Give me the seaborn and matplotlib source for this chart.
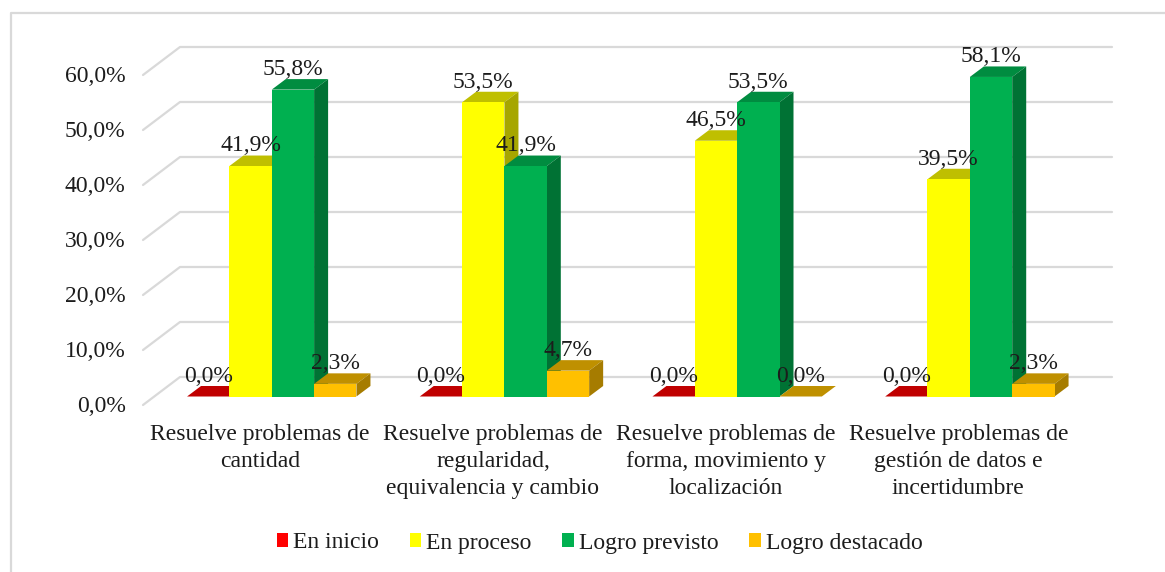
import pandas as pd
import seaborn as sns
import matplotlib.pyplot as plt
from matplotlib.lines import Line2D
from matplotlib.patches import Polygon

categorias = ["Resuelve problemas de\ncantidad",
              "Resuelve problemas de\nregularidad,\nequivalencia y cambio",
              "Resuelve problemas de\nforma, movimiento y\nlocalización",
              "Resuelve problemas de\ngestión de datos e\nincertidumbre"]
niveles = ["En inicio", "En proceso", "Logro previsto", "Logro destacado"]
en_inicio = [0.0, 0.0, 0.0, 0.0]
en_proceso = [41.9, 53.5, 46.5, 39.5]
logro_previsto = [55.8, 41.9, 53.5, 58.1]
logro_destacado = [2.3, 4.7, 0.0, 2.3]
ticks_y = [0, 10, 20, 30, 40, 50, 60]

colores = ["#FF0000", "#FFFF00", "#00B050", "#FFC000"]
colores_top = ["#C00000", "#BFBF00", "#008C40", "#BF9000"]
colores_lado = ["#A60000", "#A6A600", "#007234", "#A67C00"]

sns.set_style("white")
plt.rcParams["font.family"] = ["Liberation Serif", "DejaVu Serif"]
texto = "#1c1c1c"
gris = "#d9d9d9"
fs = 17

W, H = 1165, 572
fig = plt.figure(figsize=(W / 100, H / 100), dpi=100)

# escala en pixeles de la imagen original
px_x = 232.7  # un grupo
px_y = 5.5  # un punto porcentual
x0_px = 271.75
y0_px = 396.5
izq, der, arr, aba = 127, 1130, 30, 412
ax = fig.add_axes([izq / W, 1 - aba / H, (der - izq) / W, (aba - arr) / H])

df = pd.DataFrame({
    "categoria": categorias * 4,
    "nivel": [n for n in niveles for _ in categorias],
    "valor": en_inicio + en_proceso + logro_previsto + logro_destacado,
})
sns.barplot(data=df, x="categoria", y="valor", hue="nivel", hue_order=niveles,
            palette=colores, saturation=1, width=0.728, gap=0, linewidth=0, ax=ax)

ax.set_xlim((izq - x0_px) / px_x, (der - x0_px) / px_x)
ax.set_ylim((y0_px - aba) / px_y, (y0_px - arr) / px_y)

# profundidad del efecto 3D
dx = 14 / px_x
dy = 10.5 / px_y
fondo_y = 19.5 / px_y
frente_y = 8.5 / px_y
x_fondo = (180 - x0_px) / px_x
x_frente = (143 - x0_px) / px_x
x_fin = (1112 - x0_px) / px_x

for v in ticks_y:
    ax.add_line(Line2D([x_frente, x_fondo, x_fin], [v - frente_y, v + fondo_y, v + fondo_y],
                       color=gris, lw=1.6, zorder=1, clip_on=False))

for i, cont in enumerate(ax.containers):
    z = 3 + i
    for bar in cont:
        bar.set_zorder(z + 0.5)
        x, w, h = bar.get_x(), bar.get_width(), bar.get_height()
        ax.add_patch(Polygon([(x, h), (x + w, h), (x + w + dx, h + dy), (x + dx, h + dy)],
                             facecolor=colores_top[i], lw=0, zorder=z))
        ax.add_patch(Polygon([(x + w, 0), (x + w + dx, dy), (x + w + dx, h + dy), (x + w, h)],
                             facecolor=colores_lado[i], lw=0, zorder=z))
        ax.annotate(f"{h:.1f}%".replace(".", ","), (x + w / 2, h), xytext=(0, 10.6),
                    textcoords="offset points", ha="center", va="baseline",
                    fontsize=fs, color=texto, zorder=20)

ax.set_xticks([i - 11.5 / px_x for i in range(4)], categorias)
ax.set_yticks([v - frente_y + 0.15 for v in ticks_y], [f"{v:.1f}%".replace(".", ",") for v in ticks_y])
ax.tick_params(axis="both", length=0, labelsize=fs, labelcolor=texto)
ax.tick_params(axis="x", pad=8.3)
ax.tick_params(axis="y", pad=1)
ax.set_xlabel("")
ax.set_ylabel("")
sns.despine(ax=ax, left=True, bottom=True)
ax.patch.set_alpha(0)
ax.grid(False)

for lab in ax.get_xticklabels():
    lab.set_linespacing(1.38)

ax.legend(frameon=False, ncol=4, loc="center", bbox_to_anchor=((599.5 - izq) / (der - izq), (aba - 543) / (aba - arr)),
          fontsize=fs, labelcolor=texto, handlelength=0.5, handleheight=0.5,
          handletextpad=0.2, columnspacing=1.3)

# marco del grafico
fig.add_artist(Line2D([10.5 / W, 10.5 / W, 1], [0, 1 - 12.5 / H, 1 - 12.5 / H],
                      color=gris, lw=1.6, transform=fig.transFigure))

fig.savefig("out.png", dpi=100)
